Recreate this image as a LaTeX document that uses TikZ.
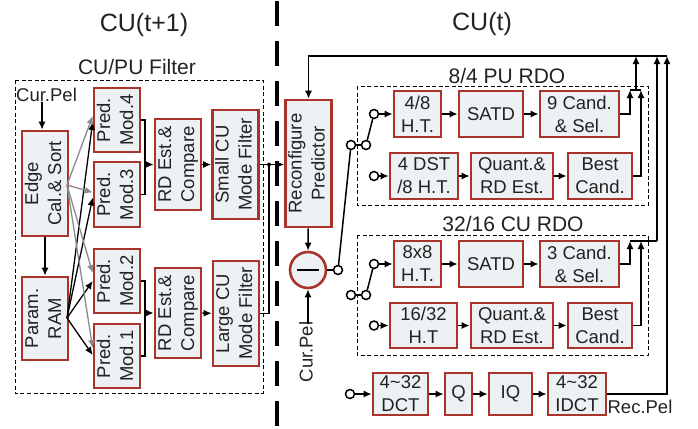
\documentclass[tikz,border=0pt]{standalone}
\usepackage{fontspec}
\setmainfont{Liberation Sans}
\usetikzlibrary{arrows.meta}
\definecolor{boxred}{HTML}{A8342C}
\definecolor{boxfill}{HTML}{EDF1F4}
\definecolor{txt}{HTML}{222222}
\definecolor{garrow}{HTML}{8A8A8A}
\newcommand\boxfont{\fontsize{18.5pt}{23pt}\selectfont}
\newcommand\titlefont{\fontsize{25pt}{30pt}\selectfont}
\newcommand\subfont{\fontsize{21pt}{25pt}\selectfont}
\newcommand\rottwo[2]{\rotatebox{90}{\begin{tabular}{@{}c@{}}#1\\#2\end{tabular}}}
\tikzset{
 bx/.style={draw=boxred, line width=2.6pt, fill=boxfill, inner sep=0pt, align=center, font=\boxfont, text=txt},
 arr/.style={line width=1.5pt, -{Latex[length=8pt,width=7pt]}},
 ln/.style={line width=1.5pt},
 garr/.style={line width=1.3pt, draw=garrow, -{Latex[length=8pt,width=7pt]}, color=garrow},
 barr/.style={line width=1.3pt, -{Latex[length=8pt,width=7pt]}},
 dbox/.style={draw, line width=0.9pt, dash pattern=on 4pt off 2.5pt},
 oc/.style={circle, draw, line width=1.5pt, fill=white, inner sep=0pt, minimum size=9pt},
 lbl/.style={font=\boxfont, text=txt, inner sep=0pt},
 ttl/.style={font=\titlefont, text=txt, inner sep=0pt},
 sub/.style={font=\subfont, text=txt, inner sep=0pt},
}
\begin{document}
\begin{tikzpicture}[x=1pt,y=-1pt]
\useasboundingbox (0,0) rectangle (698,428);
% divider
\draw[line width=4pt, dash pattern=on 25pt off 15pt] (277,1) -- (277,428);
% titles
\node[ttl] (t1lbl) at (144,25) {CU(t+1)};
\node[ttl] (t2lbl) at (482,24) {CU(t)};
\node[sub] (cupu) at (137,67) {CU/PU Filter};
\node[sub] (pu84) at (507,76) {8/4 PU RDO};
\node[sub] (cu3216) at (513,224) {32/16 CU RDO};
% dashed frames
\draw[dbox] (15,80) rectangle (263,393);
\draw[dbox] (357,86) rectangle (648,205);
\draw[dbox] (357,235) rectangle (648,355);
% left boxes
\node[lbl, anchor=west] (cp1) at (16,95) {Cur.Pel};
\node[bx, minimum width=44, minimum height=105] (edge) at (45,183.5) {\rottwo{Edge}{Cal.\& Sort}};
\node[bx, minimum width=44, minimum height=83] (param) at (45,318.5) {\rottwo{Param.}{RAM}};
\node[bx, minimum width=44, minimum height=64] (m4) at (117,120) {\rottwo{Pred.}{Mod.4}};
\node[bx, minimum width=44, minimum height=65] (m3) at (117,194.5) {\rottwo{Pred.}{Mod.3}};
\node[bx, minimum width=44, minimum height=64] (m2) at (117,281) {\rottwo{Pred.}{Mod.2}};
\node[bx, minimum width=44, minimum height=64] (m1) at (117,356) {\rottwo{Pred.}{Mod.1}};
\node[bx, minimum width=44, minimum height=91] (rd1) at (178,164.5) {\rottwo{RD Est.\&}{Compare}};
\node[bx, minimum width=44, minimum height=90] (rd2) at (178,313) {\rottwo{RD Est.\&}{Compare}};
\node[bx, minimum width=45, minimum height=109] (small) at (235.5,164.5) {\rottwo{Small CU}{Mode Filter}};
\node[bx, minimum width=45, minimum height=105] (large) at (236,313.5) {\rottwo{Large CU}{Mode Filter}};
% left connectors
\draw[arr] ([xshift=-3pt]edge.north |- cp1.south) -- ([xshift=-3pt]edge.north);
\draw[arr] (edge) -- (param);
\coordinate (eo) at (67,185);
\coordinate (po) at (67,318);
\draw[barr] (po) -- ([yshift=-2pt]m4.west);
\draw[barr] (po) -- ([yshift=-3pt]m3.west);
\draw[barr] (po) -- ([yshift=0pt]m2.west);
\draw[barr] (po) -- ([yshift=1pt]m1.west);
\draw[garr] (eo) -- ([yshift=4pt]m4.west);
\draw[garr] (eo) -- ([yshift=2pt]m3.west);
\draw[garr] (eo) -- ([yshift=8pt]m2.west);
\draw[garr] (eo) -- ([yshift=8pt]m1.west);
\coordinate (b1) at (145,164.5);
\coordinate (b2) at (145,313);
\draw[ln] (m4.east) -| (b1) |- (m3.east);
\draw[ln] (m2.east) -| (b2) |- (m1.east);
\draw[arr] (b1) -- (rd1);
\draw[arr] (b2) -- (rd2);
\draw[arr] (rd1) -- (small);
\draw[arr] (rd2) -- (large);
% right: predictor and subtractor
\node[bx, minimum width=43, minimum height=127] (recon) at (308.5,163.5) {\rottwo{Reconfigure}{Predictor}};
\coordinate (j) at (269,164.5);
\draw[arr] (small.east) -- (recon.west |- small.east);
\draw[ln] (large.east) -| (j);
\fill (j) circle (2);
\node[circle, draw=boxred, line width=2.6pt, fill=boxfill, minimum size=36pt, inner sep=0pt] (subt) at (308,270) {};
\draw[line width=1.6pt] ([xshift=-11pt]subt.center) -- ([xshift=11pt]subt.center);
\draw[arr] (recon) -- (subt);
\node[lbl, rotate=90] (cp2) at (306,352) {Cur.Pel};
\draw[arr] ([yshift=-3pt]subt.south |- cp2.east) -- (subt.south);
% switch terminals
\node[oc] (o1) at (338,270) {};
\node[oc] (o2) at (351,145) {};
\node[oc] (o3) at (366,145) {};
\node[oc] (o4) at (374,114) {};
\node[oc] (o5) at (374,176) {};
\node[oc] (o6) at (351,295) {};
\node[oc] (o7) at (366,295) {};
\node[oc] (o8) at (374,264) {};
\node[oc] (o9) at (374,325.5) {};
\node[oc] (o10) at (350,394) {};
\draw[ln] (subt) -- (o1);
\draw[ln] (o1) -- (o2);
\draw[ln] (o2) -- (o3);
\draw[ln] (o3) -- (o4);
\draw[ln] (o6) -- (o7);
\draw[ln] (o7) -- (o8);
% 8/4 PU RDO
\node[bx, minimum width=47, minimum height=46] (ht48) at (417.5,114) {4/8\\H.T.};
\node[bx, minimum width=64, minimum height=46] (satd1) at (491,114) {SATD};
\node[bx, minimum width=79, minimum height=46] (c9) at (579.5,114) {9 Cand.\\\& Sel.};
\node[bx, minimum width=68, minimum height=46] (dst) at (424,176) {4 DST\\/8 H.T.};
\node[bx, minimum width=82, minimum height=46] (q1) at (512,176) {Quant.\&\\RD Est.};
\node[bx, minimum width=64, minimum height=46] (best1) at (600,176) {Best\\Cand.};
\draw[arr] (o4) -- (ht48);
\draw[arr] (ht48) -- (satd1);
\draw[arr] (satd1) -- (c9);
\draw[arr] (o5) -- (dst);
\draw[arr] (dst) -- (q1);
\draw[arr] (q1) -- (best1);
% 32/16 CU RDO
\node[bx, minimum width=47, minimum height=46] (ht8) at (417.5,264) {8x8\\H.T.};
\node[bx, minimum width=64, minimum height=46] (satd2) at (491,264) {SATD};
\node[bx, minimum width=79, minimum height=46] (c3) at (579.5,264) {3 Cand.\\\& Sel.};
\node[bx, minimum width=67, minimum height=45] (ht16) at (423.5,325.5) {16/32\\H.T};
\node[bx, minimum width=82, minimum height=45] (q2) at (512,325.5) {Quant.\&\\RD Est.};
\node[bx, minimum width=64, minimum height=45] (best2) at (600,325.5) {Best\\Cand.};
\draw[arr] (o8) -- (ht8);
\draw[arr] (ht8) -- (satd2);
\draw[arr] (satd2) -- (c3);
\draw[arr] (o9) -- (ht16);
\draw[arr] (ht16) -- (q2);
\draw[arr] (q2) -- (best2);
% DCT row
\node[bx, minimum width=55, minimum height=42] (dct) at (400.5,394) {4\textasciitilde32\\DCT};
\node[bx, minimum width=27, minimum height=42] (qq) at (458.5,394) {Q};
\node[bx, minimum width=43, minimum height=42] (iq) at (510.5,394) {IQ};
\node[bx, minimum width=58, minimum height=42] (idct) at (577,394) {4\textasciitilde32\\IDCT};
\draw[arr] (o10) -- (dct);
\draw[arr] (dct) -- (qq);
\draw[arr] (qq) -- (iq);
\draw[arr] (iq) -- (idct);
\node[lbl] (rec) at (640,407) {Rec.Pel};
% feedback
\coordinate (tr) at (667,56);
\draw[arr] (tr) -| (recon.north);
\coordinate (t1a) at (630,90);
\coordinate (t1b) at (641,90);
\coordinate (t1) at (636,90);
\draw[arr] (c9.east) -| (t1a);
\draw[arr] (best1.east) -| (t1b);
\draw[ln] (t1a) -- (t1b);
\draw[arr] (t1) -- (t1 |- tr);
\coordinate (t2a) at (630,241);
\coordinate (t2b) at (641,241);
\coordinate (t2c) at (657,241);
\draw[arr] (c3.east) -| (t2a);
\draw[arr] (best2.east) -| (t2b);
\draw[ln] (t2a) -- (t2c);
\draw[arr] (t2c) -- (t2c |- tr);
\draw[arr] (idct.east) -| (tr);
\end{tikzpicture}
\end{document}
